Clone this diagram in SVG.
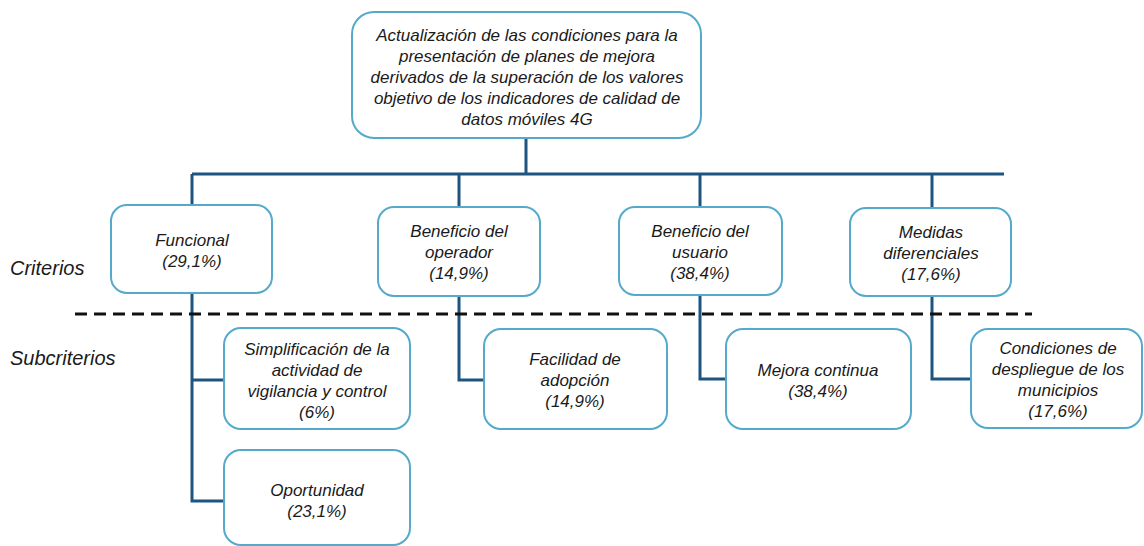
<svg xmlns="http://www.w3.org/2000/svg" width="1144" height="546" viewBox="0 0 1144 546">
<style>
.box{fill:#fff;stroke:#55aacb;stroke-width:2}
.t{font-family:"Liberation Sans",Arial,sans-serif;font-style:italic;font-size:17px;fill:#1a1a1a;text-anchor:middle}
.lbl{font-family:"Liberation Sans",Arial,sans-serif;font-style:italic;font-size:20px;fill:#1a1a1a}
.c{fill:none;stroke:#1d5580;stroke-width:3}
</style>
<rect width="1144" height="546" fill="#fff"/>
<g id="connectors">
<path class="c" d="M526,138 V174"/>
<path class="c" d="M192,174 H1004"/>
<path class="c" d="M192,174 V205"/>
<path class="c" d="M459,174 V207"/>
<path class="c" d="M700,174 V207"/>
<path class="c" d="M932,174 V208"/>
<path class="c" d="M192,293 V501 H224"/>
<path class="c" d="M192,380 H224"/>
<path class="c" d="M459,296 V380 H484"/>
<path class="c" d="M700,295 V379 H726"/>
<path class="c" d="M932,296 V379 H971"/>
</g>
<g id="divider">
<path d="M75,314 H1032" stroke="#111" stroke-width="3" stroke-dasharray="12 7" fill="none"/>
</g>
<g id="labels">
<text class="lbl" x="10" y="275">Criterios</text>
<text class="lbl" x="10" y="365">Subcriterios</text>
</g>
<g id="root">
<rect class="box" x="352" y="12" width="349" height="126" rx="22"/>
<text class="t" x="527" y="40.5">Actualización de las condiciones para la</text>
<text class="t" x="527" y="61.5">presentación de planes de mejora</text>
<text class="t" x="527" y="82.5">derivados de la superación de los valores</text>
<text class="t" x="527" y="103.5">objetivo de los indicadores de calidad de</text>
<text class="t" x="527" y="124.5">datos móviles 4G</text>
</g>
<g id="funcional">
<rect class="box" x="111" y="205" width="161" height="88" rx="16"/>
<text class="t" x="192" y="246">Funcional</text>
<text class="t" x="192" y="267">(29,1%)</text>
</g>
<g id="beneficio-operador">
<rect class="box" x="378" y="207" width="162" height="89" rx="16"/>
<text class="t" x="459" y="237">Beneficio del</text>
<text class="t" x="459" y="258">operador</text>
<text class="t" x="459" y="279">(14,9%)</text>
</g>
<g id="beneficio-usuario">
<rect class="box" x="619" y="207" width="163" height="88" rx="16"/>
<text class="t" x="700" y="237">Beneficio del</text>
<text class="t" x="700" y="258">usuario</text>
<text class="t" x="700" y="279">(38,4%)</text>
</g>
<g id="medidas">
<rect class="box" x="850" y="208" width="161" height="88" rx="16"/>
<text class="t" x="931" y="238">Medidas</text>
<text class="t" x="931" y="259">diferenciales</text>
<text class="t" x="931" y="280">(17,6%)</text>
</g>
<g id="simplificacion">
<rect class="box" x="224" y="328" width="186" height="101" rx="17"/>
<text class="t" x="317" y="355">Simplificación de la</text>
<text class="t" x="317" y="376">actividad de</text>
<text class="t" x="317" y="397">vigilancia y control</text>
<text class="t" x="317" y="418">(6%)</text>
</g>
<g id="oportunidad">
<rect class="box" x="224" y="450" width="186" height="95" rx="17"/>
<text class="t" x="317" y="496">Oportunidad</text>
<text class="t" x="317" y="517">(23,1%)</text>
</g>
<g id="facilidad">
<rect class="box" x="484" y="329" width="183" height="100" rx="17"/>
<text class="t" x="575" y="365">Facilidad de</text>
<text class="t" x="575" y="386">adopción</text>
<text class="t" x="575" y="407">(14,9%)</text>
</g>
<g id="mejora">
<rect class="box" x="726" y="329" width="185" height="100" rx="17"/>
<text class="t" x="818" y="376">Mejora continua</text>
<text class="t" x="818" y="397">(38,4%)</text>
</g>
<g id="condiciones">
<rect class="box" x="971" y="329" width="171" height="99" rx="17"/>
<text class="t" x="1058" y="354">Condiciones de</text>
<text class="t" x="1058" y="375">despliegue de los</text>
<text class="t" x="1058" y="396">municipios</text>
<text class="t" x="1058" y="417">(17,6%)</text>
</g>
</svg>
